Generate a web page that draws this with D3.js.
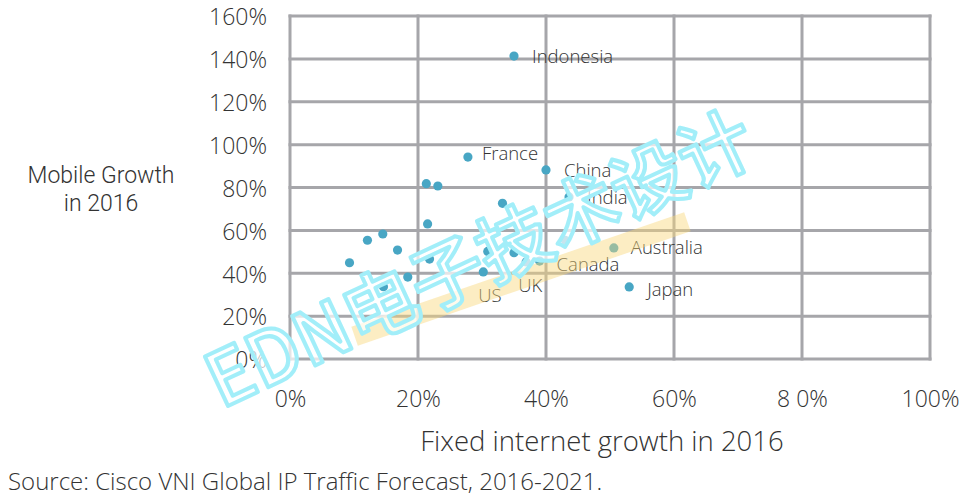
<!DOCTYPE html>
<html>
<head>
<meta charset="utf-8">
<script src="https://cdn.jsdelivr.net/npm/d3@7"></script>
<style>
  html, body { margin: 0; padding: 0; background: #fff; }
  svg { display: block; }
  text { font-family: "Open Sans", "Liberation Sans", sans-serif; font-weight: 300; }
</style>
</head>
<body>
<svg id="chart" width="959" height="504"></svg>
<script>
// ---- data ----
const countries = ["Indonesia","France","China","India","Australia","Japan","Canada","UK","US",
  "", "", "", "", "", "", "", "", "", "", "", "", "", ""];
const fixedGrowth = [35.0, 27.8, 40.0, 43.6, 50.6, 53.0, 39.0, 36.9, 30.2,
  21.3, 23.1, 33.2, 21.5, 43.0, 12.1, 14.5, 16.8, 9.3, 21.8, 30.9, 35.0, 18.4, 14.6];
const mobileGrowth = [141.3, 94.2, 88.2, 75.6, 51.8, 33.6, 45.7, 45.3, 40.6,
  81.8, 80.7, 72.6, 63.0, 55.4, 55.4, 58.3, 50.8, 44.9, 46.6, 50.2, 49.6, 38.2, 33.7];
const xTickValues = [0, 20, 40, 60, 80, 100];
const xTickLabels = ["0%", "20%", "40%", "60%", "8 0%", "100%"];
const yTickValues = [0, 20, 40, 60, 80, 100, 120, 140, 160];
const yTickLabels = ["0%", "20%", "40%", "60%", "80%", "100%", "120%", "140%", "160%"];
const xTitle = "Fixed internet growth in 2016";
const yTitle = ["Mobile Growth", "in 2016"];
const source = "Source: Cisco VNI Global IP Traffic Forecast, 2016-2021.";
const watermark = "EDN电子技术设计";

// label placement (style, not data)
const labelOffset = {
  "Indonesia": [18, 0], "France": [14, -4], "China": [18, 1], "India": [18, 1],
  "Australia": [17, 0], "Japan": [18, 3], "Canada": [17, 3], "UK": [-8, 24], "US": [-5, 24]
};

const svg = d3.select("#chart");
const m = { left: 290, top: 16, right: 930, bottom: 359 };
const x = d3.scaleLinear().domain([0, 100]).range([m.left, m.right]);
const y = d3.scaleLinear().domain([0, 160]).range([m.bottom, m.top]);
const gridColor = "#a6a6aa";
const textColor = "#333";

// grid
const g = svg.append("g");
g.selectAll("line.v").data(xTickValues).join("line")
  .attr("x1", d => x(d)).attr("x2", d => x(d))
  .attr("y1", m.top - 1.5).attr("y2", m.bottom + 1.5)
  .attr("stroke", gridColor).attr("stroke-width", 3);
g.selectAll("line.h").data(yTickValues).join("line")
  .attr("x1", m.left - 1.5).attr("x2", m.right + 1.5)
  .attr("y1", d => y(d)).attr("y2", d => y(d))
  .attr("stroke", gridColor).attr("stroke-width", 3);

// axes (labels only)
const xAxis = d3.axisBottom(x).tickValues(xTickValues)
  .tickFormat((d, i) => xTickLabels[i]).tickSize(0).tickPadding(0);
const xg = svg.append("g").attr("transform", `translate(0, ${m.bottom + 32})`).call(xAxis);
xg.select(".domain").remove();
xg.selectAll("text").style("font-size", "23px").style("font-family", "'Open Sans', sans-serif")
  .style("font-weight", 300).style("fill", textColor);

const yAxis = d3.axisLeft(y).tickValues(yTickValues)
  .tickFormat((d, i) => yTickLabels[i]).tickSize(0).tickPadding(0);
const yg = svg.append("g").attr("transform", `translate(${m.left - 23}, 0)`).call(yAxis);
yg.select(".domain").remove();
yg.selectAll("text").style("font-size", "23px").style("font-family", "'Open Sans', sans-serif")
  .style("font-weight", 300).style("fill", textColor).attr("dy", "0.38em");

// titles
svg.append("text").attr("x", 602).attr("y", 451).attr("text-anchor", "middle")
  .style("font-size", "27.5px").style("fill", textColor).text(xTitle);
svg.selectAll("text.yt").data(yTitle).join("text")
  .attr("x", 101).attr("y", (d, i) => 183 + i * 27.5).attr("text-anchor", "middle")
  .style("font-family", "Roboto, sans-serif").style("font-weight", 300)
  .style("font-size", "23px").style("fill", textColor).text(d => d);
svg.append("text").attr("x", 8).attr("y", 490).style("font-size", "24px")
  .style("fill", textColor).text(source);

// points
const data = countries.map((c, i) => ({ c, fx: fixedGrowth[i], mg: mobileGrowth[i] }));
svg.append("g").selectAll("circle").data(data).join("circle")
  .attr("cx", d => x(d.fx)).attr("cy", d => y(d.mg)).attr("r", 4.6)
  .attr("fill", "#48a6c4");

svg.append("g").selectAll("text").data(data.filter(d => d.c)).join("text")
  .attr("x", d => x(d.fx) + labelOffset[d.c][0])
  .attr("y", d => y(d.mg) + labelOffset[d.c][1])
  .attr("dy", "0.35em").style("font-size", "18.5px").style("fill", textColor)
  .text(d => d.c);

// highlight band (decoration)
svg.append("rect").attr("x", -176).attr("y", -10).attr("width", 352).attr("height", 20)
  .attr("transform", "translate(521,279) rotate(-19)")
  .attr("fill", "#f8d67a").attr("fill-opacity", 0.45);

// watermark
svg.append("text").attr("transform", "translate(480,260) rotate(-25)")
  .attr("text-anchor", "middle").attr("dy", "0.35em")
  .style("font-family", "'Noto Sans CJK SC', sans-serif").style("font-weight", 500)
  .style("font-size", "74px")
  .style("fill", "#ffffff").style("fill-opacity", 0.7)
  .style("stroke", "#a2eef9").style("stroke-width", 4).style("stroke-linejoin", "round")
  .text(watermark);
</script>
</body>
</html>
